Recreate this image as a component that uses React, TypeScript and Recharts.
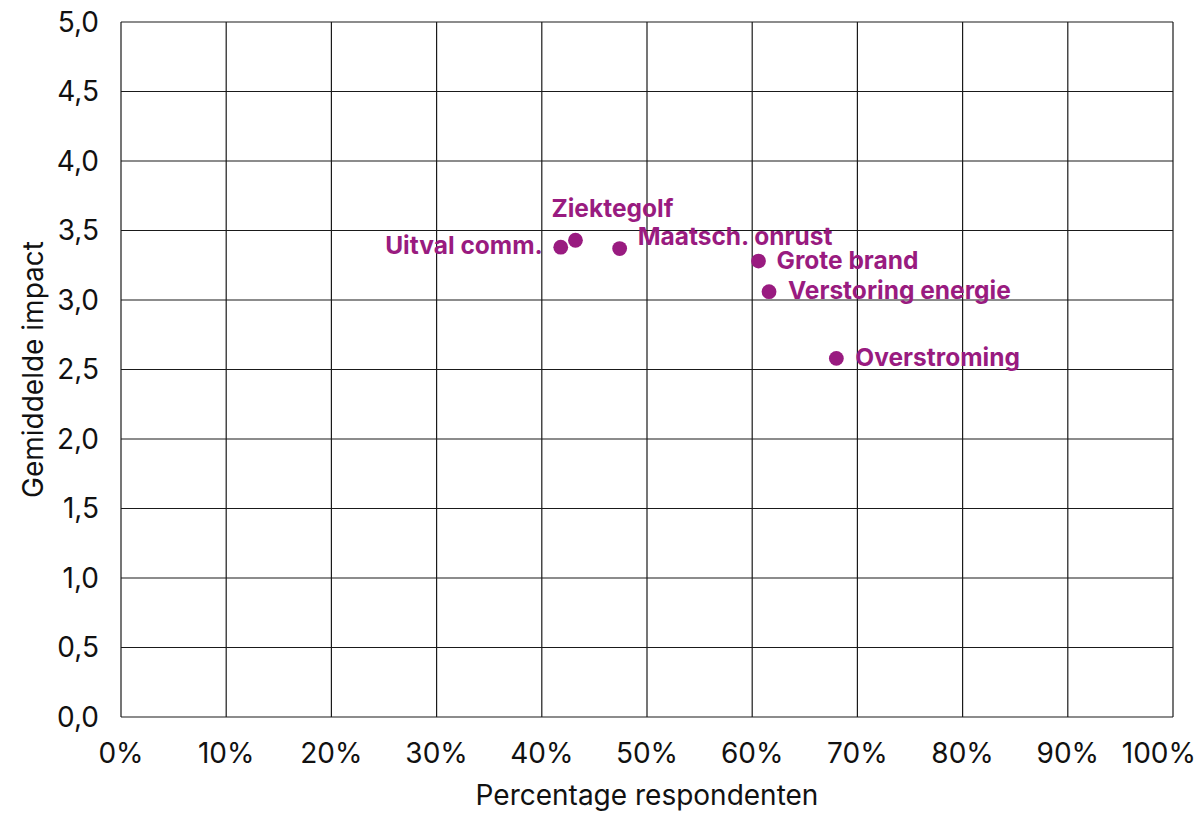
import React from "react";
import {
  ScatterChart,
  Scatter,
  XAxis,
  YAxis,
  CartesianGrid,
} from "recharts";

const risks = [
  "Uitval comm.",
  "Ziektegolf",
  "Maatsch. onrust",
  "Grote brand",
  "Verstoring energie",
  "Overstroming",
];
const respondentPct = [41.8, 43.2, 47.4, 60.6, 61.6, 68.0];
const avgImpact = [3.38, 3.43, 3.37, 3.28, 3.06, 2.58];

const xTicks = [0, 10, 20, 30, 40, 50, 60, 70, 80, 90, 100];
const yTicks = [0, 0.5, 1, 1.5, 2, 2.5, 3, 3.5, 4, 4.5, 5];

const points = risks.map((name, i) => ({
  name,
  pct: respondentPct[i],
  impact: avgImpact[i],
}));

const PURPLE = "#991b80";
const INK = "#111";
const FONT = "Inter, 'Noto Sans', sans-serif";

// where each label sits relative to its dot
const labelPlacement: Record<string, { dx: number; dy: number; anchor: "start" | "end" }> = {
  "Uitval comm.": { dx: -18, dy: 6.5, anchor: "end" },
  Ziektegolf: { dx: -24, dy: -23, anchor: "start" },
  "Maatsch. onrust": { dx: 18, dy: -3.5, anchor: "start" },
  "Grote brand": { dx: 18, dy: 8, anchor: "start" },
  "Verstoring energie": { dx: 19, dy: 7.5, anchor: "start" },
  Overstroming: { dx: 19, dy: 7.5, anchor: "start" },
};

const RiskDot = (props: any) => {
  const { cx, cy, payload } = props;
  const p = labelPlacement[payload.name];
  return (
    <g>
      <circle cx={cx} cy={cy} r={7.4} fill={PURPLE} />
      <text
        x={cx + p.dx}
        y={cy + p.dy}
        textAnchor={p.anchor}
        fill={PURPLE}
        fontFamily={FONT}
        fontWeight={700}
        fontSize={24.5}
      >
        {payload.name}
      </text>
    </g>
  );
};

// the last x tick is pulled in so it stays inside the canvas
const PctTick = (props: any) => {
  const { x, y, payload } = props;
  const last = payload.value === xTicks[xTicks.length - 1];
  return (
    <text
      x={last ? x + 23 : x}
      y={y}
      dy="0.71em"
      textAnchor={last ? "end" : "middle"}
      fill={INK}
      fontSize={28}
      fontFamily={FONT}
    >
      {`${payload.value}%`}
    </text>
  );
};

const fmtComma = (v: number) => v.toFixed(1).replace(".", ",");

export default function App() {
  return (
    <div style={{ width: 1201, height: 815, background: "#fff" }}>
      <style>{`body{margin:0}`}</style>
      <ScatterChart
        width={1201}
        height={815}
        margin={{ top: 22, right: 28, bottom: 0, left: 0 }}
      >
        <CartesianGrid stroke="#1a1a1a" strokeWidth={1.2} fill="#fff" />
        <XAxis
          type="number"
          dataKey="pct"
          domain={[0, 100]}
          ticks={xTicks}
          height={98}
          axisLine={false}
          tickLine={false}
          tickSize={0}
          tickMargin={26}
          interval={0}
          tick={<PctTick />}
          label={{
            content: (lp: any) => {
              const vb = lp.viewBox;
              return (
                <text
                  x={vb.x + vb.width / 2}
                  y={vb.y + 88}
                  textAnchor="middle"
                  fill={INK}
                  fontSize={28}
                  fontFamily={FONT}
                >
                  Percentage respondenten
                </text>
              );
            },
          }}
        />
        <YAxis
          type="number"
          dataKey="impact"
          domain={[0, 5]}
          ticks={yTicks}
          tickFormatter={fmtComma}
          width={121}
          axisLine={false}
          tickLine={false}
          tickSize={0}
          tickMargin={22}
          interval={0}
          tick={{ fill: INK, fontSize: 28, fontFamily: FONT }}
          label={{
            content: (lp: any) => {
              const vb = lp.viewBox;
              const cy = vb.y + vb.height / 2;
              return (
                <text
                  x={43}
                  y={cy}
                  transform={`rotate(-90 43 ${cy})`}
                  textAnchor="middle"
                  fill={INK}
                  fontSize={28}
                  fontFamily={FONT}
                >
                  Gemiddelde impact
                </text>
              );
            },
          }}
        />
        <Scatter data={points} shape={RiskDot} isAnimationActive={false} />
      </ScatterChart>
    </div>
  );
}
